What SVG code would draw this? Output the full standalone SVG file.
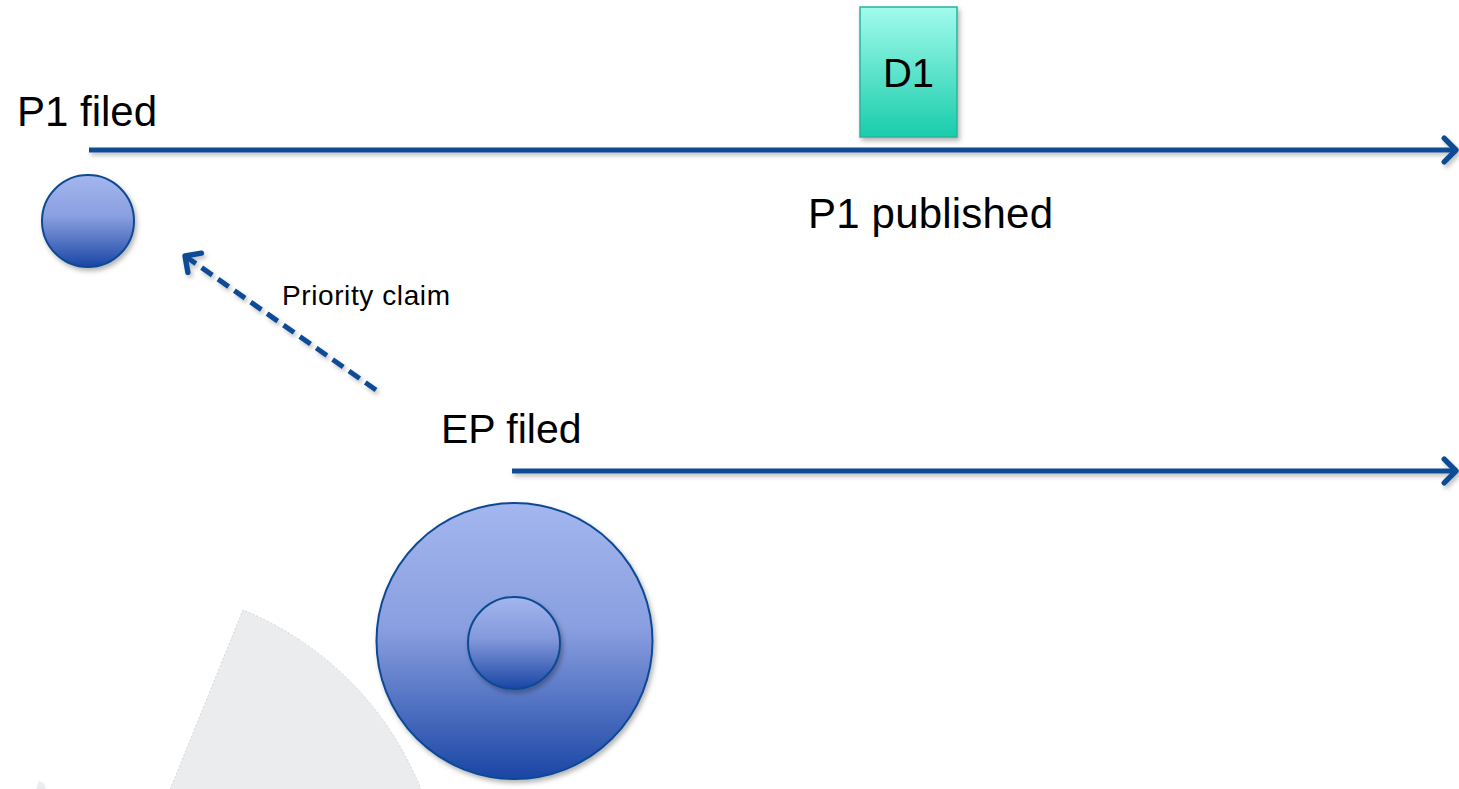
<svg xmlns="http://www.w3.org/2000/svg" width="1459" height="789" viewBox="0 0 1459 789">
<defs>
<linearGradient id="blueGrad" x1="0" y1="0" x2="0" y2="1">
<stop offset="0" stop-color="#a3b6ef"/>
<stop offset="0.45" stop-color="#8a9fe0"/>
<stop offset="1" stop-color="#1a46a5"/>
</linearGradient>
<linearGradient id="innerGrad" x1="0" y1="0" x2="0" y2="1">
<stop offset="0" stop-color="#a3b6ef"/>
<stop offset="0.45" stop-color="#8499dc"/>
<stop offset="1" stop-color="#1a46a5"/>
</linearGradient>
<linearGradient id="tealGrad" x1="0" y1="0" x2="0" y2="1">
<stop offset="0" stop-color="#a2fbec"/>
<stop offset="1" stop-color="#19ccab"/>
</linearGradient>
<filter id="shadow" x="-20%" y="-20%" width="150%" height="150%">
<feDropShadow dx="2" dy="3" stdDeviation="2.5" flood-color="#000" flood-opacity="0.3"/>
</filter>
<filter id="lineShadow" filterUnits="userSpaceOnUse" x="0" y="0" width="1459" height="789">
<feDropShadow dx="2" dy="3" stdDeviation="2" flood-color="#000" flood-opacity="0.25"/>
</filter>
<marker id="chev" markerUnits="userSpaceOnUse" markerWidth="30" markerHeight="30" viewBox="-16 -14 20 28" refX="0" refY="0" orient="auto">
<path d="M -11 -11 L 0 0 L -11 11" fill="none" stroke="#0f4c95" stroke-width="5" stroke-linecap="round" stroke-linejoin="round"/>
</marker>
</defs>
<style>
.lbl { font-family: "Liberation Sans", Arial, sans-serif; fill: #000; }
.timeline { stroke: #0f4c95; stroke-width: 5; fill: none; }
.disc { stroke: #0d4a93; stroke-width: 2; }
</style>
<rect width="1459" height="789" fill="#fff"/>
<g id="wedge">
<path d="M 122 908 L 243 610 A 322 322 0 0 1 425 800 Z" fill="#ebecee" stroke="#d4d5d8" stroke-width="1" stroke-dasharray="2 2"/>
<path d="M 36 789 L 39 781 L 44 783 L 46 789 Z" fill="#ebecee"/>
</g>
<g id="connectors" filter="url(#lineShadow)">
<line class="timeline" x1="89" y1="150" x2="1456" y2="150" marker-end="url(#chev)"/>
<line class="timeline" x1="512" y1="471" x2="1456" y2="471" marker-end="url(#chev)"/>
<line x1="376" y1="390" x2="185" y2="256" stroke="#0f4c95" stroke-width="5" stroke-dasharray="13 7" marker-end="url(#chev)"/>
</g>
<g id="p1-filed">
<text class="lbl" x="17" y="126" font-size="42">P1 filed</text>
<circle class="disc" cx="88" cy="221" r="46" fill="url(#blueGrad)" filter="url(#shadow)"/>
</g>
<g id="d1">
<rect x="860" y="7" width="97" height="130" fill="url(#tealGrad)" stroke="#2ab39f" stroke-width="1.5" filter="url(#shadow)"/>
<text class="lbl" x="908.5" y="87" font-size="40" text-anchor="middle">D1</text>
</g>
<g id="p1-published">
<text class="lbl" x="808" y="228" font-size="42" textLength="245">P1 published</text>
</g>
<g id="priority-claim">
<text class="lbl" x="282" y="305" font-size="28" textLength="168">Priority claim</text>
</g>
<g id="ep-filed">
<text class="lbl" x="441" y="443" font-size="41">EP filed</text>
<circle class="disc" cx="514.5" cy="641" r="138" fill="url(#blueGrad)" filter="url(#shadow)"/>
<circle class="disc" cx="514" cy="643" r="46" fill="url(#innerGrad)" filter="url(#shadow)"/>
</g>
</svg>
